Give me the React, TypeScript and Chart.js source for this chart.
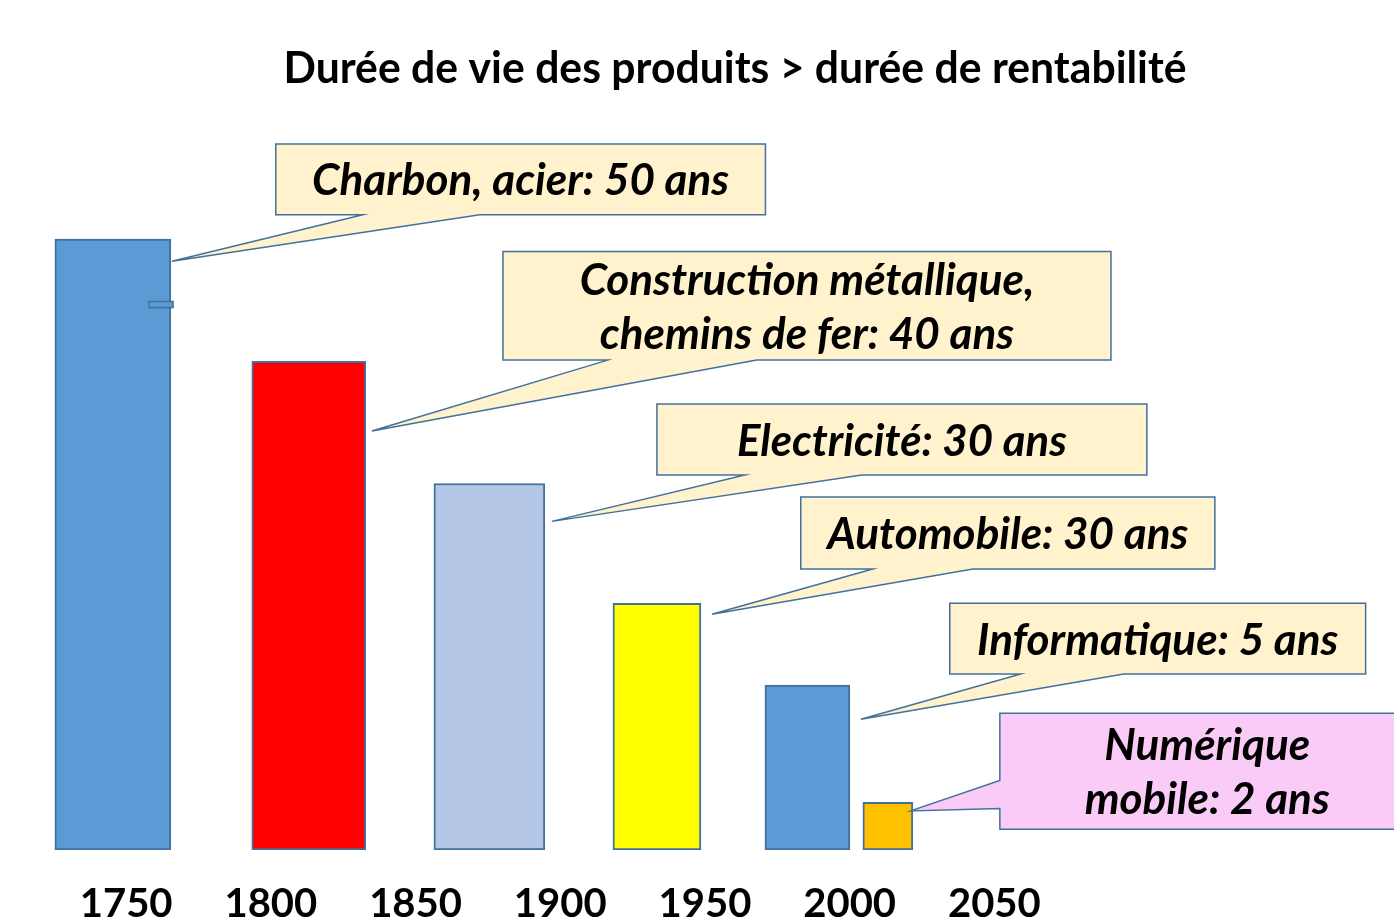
import React, { useEffect, useRef } from 'react';
import { Chart, registerables } from 'chart.js';

Chart.register(...registerables);

// ---------- data ----------
const TITLE = 'Durée de vie des produits > durée de rentabilité';
const sectors = [
  'Charbon, acier',
  'Construction métallique, chemins de fer',
  'Electricité',
  'Automobile',
  'Informatique',
  'Numérique mobile',
];
const lifespans = [50, 40, 30, 30, 5, 2];
const barYears = [1745.4, 1813.1, 1875.5, 1933.4, 1985.4, 2013.2];
const barHeights = [50, 40, 30, 20.2, 13.5, 3.9];
const tickYears = [1750, 1800, 1850, 1900, 1950, 2000, 2050];
const calloutLines = [
  ['Charbon, acier: 50 ans'],
  ['Construction métallique,', 'chemins de fer: 40 ans'],
  ['Electricité: 30 ans'],
  ['Automobile: 30 ans'],
  ['Informatique: 5 ans'],
  ['Numérique', 'mobile: 2 ans'],
];

// ---------- styles / layout ----------
const barColors = ['#5B9BD5', '#FF0000', '#B4C7E7', '#FFFF00', '#5B9BD5', '#FFC000'];
const barWidthsPx = [116, 114, 111, 88, 85, 50];
const calloutFills = ['#FFF2CC', '#FFF2CC', '#FFF2CC', '#FFF2CC', '#FFF2CC', '#FBCBF7'];
const calloutTextWidths = [[420], [463, 419], [330], [366], [370], [210, 250]];
type Callout = {
  x0: number; x1: number; top: number; bottom: number;
  side: 'bottom' | 'left'; base: [number, number]; tip: [number, number];
};
const calloutBoxes: Callout[] = [
  { x0: 1801.7, x1: 1970.9, top: 57.8, bottom: 52.0, side: 'bottom', base: [1831.8, 1872.2], tip: [1765.8, 48.2] },
  { x0: 1880.2, x1: 2090.3, top: 49.0, bottom: 40.1, side: 'bottom', base: [1916.4, 1967.9], tip: [1834.9, 34.3] },
  { x0: 1933.4, x1: 2102.7, top: 36.5, bottom: 30.7, side: 'bottom', base: [1963.8, 2004.2], tip: [1897.1, 26.9] },
  { x0: 1983.1, x1: 2126.2, top: 28.9, bottom: 23.0, side: 'bottom', base: [2008.0, 2042.6], tip: [1952.4, 19.3] },
  { x0: 2034.6, x1: 2178.3, top: 20.2, bottom: 14.4, side: 'bottom', base: [2059.1, 2094.7], tip: [2003.9, 10.7] },
  { x0: 2051.9, x1: 2195.2, top: 11.2, bottom: 1.7, side: 'left', base: [5.7, 3.4], tip: [2021.1, 3.2] },
];
const marker = { x0: 1757.9, x1: 1766.2, top: 44.9, bottom: 44.4 };
const OUTLINE = '#41719C';
const TITLE_POS = { x: 735, y: 69, maxWidth: 903 };

const calloutPlugin = {
  id: 'callouts',
  afterDatasetsDraw(chart: any) {
    const { ctx } = chart;
    const x = chart.scales.x;
    const y = chart.scales.y;
    ctx.save();
    // title
    ctx.fillStyle = '#000';
    ctx.font = 'bold 43px Lato';
    ctx.textAlign = 'center';
    ctx.textBaseline = 'middle';
    ctx.fillText(TITLE, TITLE_POS.x, TITLE_POS.y, TITLE_POS.maxWidth);
    // small marker on first bar
    {
      const L = x.getPixelForValue(marker.x0);
      const R = x.getPixelForValue(marker.x1);
      const T = y.getPixelForValue(marker.top);
      const B = y.getPixelForValue(marker.bottom);
      ctx.fillStyle = '#5B9BD5';
      ctx.strokeStyle = OUTLINE;
      ctx.lineWidth = 1.5;
      ctx.fillRect(L, T, R - L, B - T);
      ctx.strokeRect(L, T, R - L, B - T);
    }
    calloutBoxes.forEach((c, i) => {
      const L = x.getPixelForValue(c.x0);
      const R = x.getPixelForValue(c.x1);
      const T = y.getPixelForValue(c.top);
      const B = y.getPixelForValue(c.bottom);
      const tx = x.getPixelForValue(c.tip[0]);
      const ty = y.getPixelForValue(c.tip[1]);
      ctx.beginPath();
      if (c.side === 'bottom') {
        const b1 = x.getPixelForValue(c.base[0]);
        const b2 = x.getPixelForValue(c.base[1]);
        ctx.moveTo(L, T);
        ctx.lineTo(R, T);
        ctx.lineTo(R, B);
        ctx.lineTo(b2, B);
        ctx.lineTo(tx, ty);
        ctx.lineTo(b1, B);
        ctx.lineTo(L, B);
      } else {
        const b1 = y.getPixelForValue(c.base[0]);
        const b2 = y.getPixelForValue(c.base[1]);
        ctx.moveTo(L, T);
        ctx.lineTo(R, T);
        ctx.lineTo(R, B);
        ctx.lineTo(L, B);
        ctx.lineTo(L, b2);
        ctx.lineTo(tx, ty);
        ctx.lineTo(L, b1);
      }
      ctx.closePath();
      ctx.fillStyle = calloutFills[i];
      ctx.fill();
      ctx.strokeStyle = OUTLINE;
      ctx.lineWidth = 1.5;
      ctx.lineJoin = 'miter';
      ctx.stroke();

      const lines = calloutLines[i];
      ctx.fillStyle = '#000';
      ctx.font = 'italic bold 44px Lato';
      ctx.textAlign = 'center';
      ctx.textBaseline = 'middle';
      const cx = (L + R) / 2;
      const cy = (T + B) / 2 + 2;
      const lh = 54;
      lines.forEach((s, j) => {
        ctx.fillText(s, cx, cy + (j - (lines.length - 1) / 2) * lh, calloutTextWidths[i][j]);
      });
    });
    ctx.restore();
  },
};

export default function App() {
  const ref = useRef<HTMLCanvasElement | null>(null);
  useEffect(() => {
    if (!ref.current) return;
    const chart = new Chart(ref.current, {
      type: 'bar',
      data: {
        datasets: sectors.map((s, i) => ({
          label: s + ' (' + lifespans[i] + ' ans)',
          data: [{ x: barYears[i], y: barHeights[i] }],
          backgroundColor: barColors[i],
          borderColor: OUTLINE,
          borderWidth: 2,
          borderSkipped: false,
          barThickness: barWidthsPx[i],
          grouped: false,
        })) as any,
      },
      options: {
        responsive: false,
        animation: false,
        layout: { padding: { top: 117, left: 0, right: 0, bottom: 0 } },
        plugins: {
          legend: { display: false },
          tooltip: { enabled: false },
          title: { display: false },
        },
        scales: {
          x: {
            type: 'linear',
            min: 1706.4,
            max: 2188.1,
            offset: false,
            grid: { display: false, drawTicks: false },
            border: { display: false },
            afterBuildTicks: (axis: any) => {
              axis.ticks = tickYears.map((v) => ({ value: v }));
            },
            ticks: {
              color: '#000',
              font: { family: 'Lato', size: 40, weight: 'bold' },
              padding: 30,
              autoSkip: false,
              maxRotation: 0,
              minRotation: 0,
              callback: (v: any) => String(v),
            },
          },
          y: { display: false, min: 0, max: 60 },
        },
      },
      plugins: [calloutPlugin],
    });
    return () => chart.destroy();
  }, []);
  return (
    <div style={{ position: 'fixed', left: 0, top: 0, width: 1394, height: 919, overflow: 'hidden', background: '#fff' }}>
      <canvas ref={ref} width={1394} height={958} style={{ display: 'block' }} />
    </div>
  );
}
